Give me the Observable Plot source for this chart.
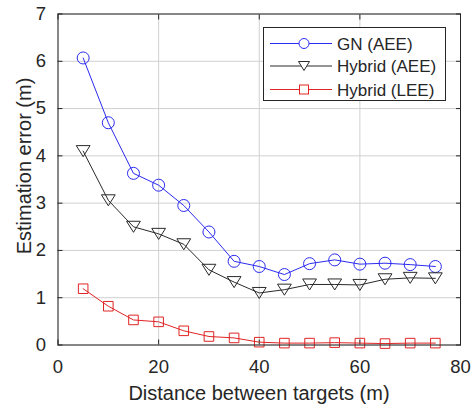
<!DOCTYPE html>
<html><head><meta charset="utf-8">
<script src="https://cdn.jsdelivr.net/npm/d3@7"></script>
<script src="https://cdn.jsdelivr.net/npm/@observablehq/plot@0.6"></script>
<style>body{margin:0;background:#fff;} svg{font-family:"Liberation Sans",Arial,sans-serif;}</style>
</head><body><div id="chart"></div>
<script>
const distances = [5,10,15,20,25,30,35,40,45,50,55,60,65,70,75];
const gnAEE     = [6.07,4.70,3.63,3.38,2.95,2.39,1.77,1.66,1.49,1.72,1.80,1.71,1.73,1.70,1.66];
const hybridAEE = [4.10,3.06,2.50,2.35,2.13,1.59,1.33,1.10,1.17,1.28,1.28,1.27,1.39,1.42,1.41];
const hybridLEE = [1.19,0.82,0.53,0.49,0.30,0.18,0.15,0.06,0.04,0.04,0.05,0.04,0.03,0.04,0.04];
const seriesNames = ["GN (AEE)","Hybrid (AEE)","Hybrid (LEE)"];
const xTicks = [0,20,40,60,80];
const yTicks = [0,1,2,3,4,5,6,7];
const xLabel = "Distance between targets (m)";
const yLabel = "Estimation error (m)";

const colors = ["#2b2bf0","#2a2a2a","#e02424"];
const triangleDown = {draw(ctx, size){ const r=Math.sqrt(size/Math.PI); const w=r*1.15, h=r*0.92; ctx.moveTo(-w,-h); ctx.lineTo(w,-h); ctx.lineTo(0,h); ctx.closePath(); }};
const symbols = ["circle", triangleDown, "square"];
const radii = [6, 6, 5.4];
const values = [gnAEE, hybridAEE, hybridLEE];
const series = seriesNames.map((name,i)=>distances.map((d,j)=>({x:d,y:values[i][j],s:name})));

const W=473, H=407;
const marks = [
  Plot.gridX(xTicks,{stroke:"#d0d0d0",strokeOpacity:1}),
  Plot.gridY(yTicks,{stroke:"#d0d0d0",strokeOpacity:1}),
  Plot.axisX(xTicks,{anchor:"bottom",tickSize:-5,tickPadding:20,fontSize:18.5,label:null,stroke:"#262626",color:"#262626"}),
  Plot.axisX(xTicks,{anchor:"top",tickSize:-5,tickFormat:()=>"",label:null,stroke:"#262626"}),
  Plot.axisY(yTicks,{anchor:"left",tickSize:-5,tickPadding:17,fontSize:18.5,label:null,stroke:"#262626",color:"#262626"}),
  Plot.axisY(yTicks,{anchor:"right",tickSize:-5,tickFormat:()=>"",label:null,stroke:"#262626"}),
];
series.forEach((data,i)=>{
  marks.push(Plot.line(data,{x:"x",y:"y",stroke:colors[i],strokeWidth:1}));
  marks.push(Plot.dot(data,{x:"x",y:"y",stroke:colors[i],fill:"none",symbol:()=>symbols[i],r:radii[i],strokeWidth:1}));
});
marks.push(Plot.frame({stroke:"#262626",strokeWidth:1}));

const chart = Plot.plot({
  width:W, height:H,
  marginLeft:57.5, marginRight:13, marginTop:13.5, marginBottom:62.5,
  x:{domain:[0,80]},
  y:{domain:[0,7]},
  style:{fontFamily:'"Liberation Sans",Arial,sans-serif',background:"#fff"},
  marks
});
document.getElementById("chart").appendChild(chart);

const svg = d3.select(chart);
svg.append("text").attr("x",259).attr("y",399.5).attr("text-anchor","middle")
  .attr("font-size",20).attr("fill","#262626").text(xLabel);
svg.append("text").attr("transform","translate(31,166) rotate(-90)").attr("text-anchor","middle")
  .attr("font-size",20).attr("fill","#262626").text(yLabel);

// legend
const lg = svg.append("g");
lg.append("rect").attr("x",263.5).attr("y",27.5).attr("width",182).attr("height",73)
  .attr("fill","#fff").attr("stroke","#262626").attr("stroke-width",1);
const rows=[43.5,66,89.5];
const legSym = [
  g=>g.append("circle").attr("r",5),
  g=>g.append("path").attr("d","M-5.5,-4.5L5.5,-4.5L0,4.5Z"),
  g=>g.append("rect").attr("x",-4.5).attr("y",-4.5).attr("width",9).attr("height",9)
];
seriesNames.forEach((name,i)=>{
  const y=rows[i];
  lg.append("line").attr("x1",270).attr("x2",332).attr("y1",y).attr("y2",y).attr("stroke",colors[i]);
  const g = lg.append("g").attr("transform",`translate(304,${y})`).attr("fill","#fff").attr("stroke",colors[i]);
  legSym[i](g);
  lg.append("text").attr("x",337).attr("y",y).attr("dy","0.36em").attr("text-anchor","start")
    .attr("font-size",17).attr("fill","#262626").text(name);
});
</script></body></html>
